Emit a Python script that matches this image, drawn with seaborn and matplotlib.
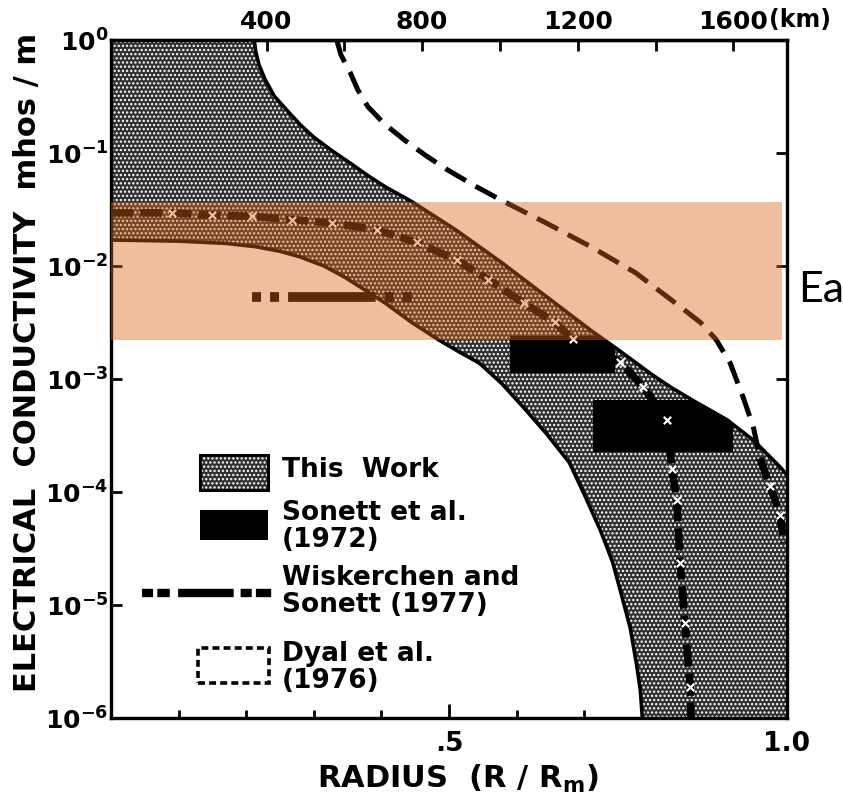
import numpy as np
import matplotlib
matplotlib.use("Agg")
import matplotlib.pyplot as plt
import seaborn as sns
from matplotlib.patches import Rectangle
from matplotlib.lines import Line2D

# radius of the moon, for the km axis on top
RM_KM = 1738

# "This Work" envelope, x = R/Rm, y = log10(sigma)
work_upper_r = [0.212, 0.214, 0.219, 0.228, 0.242, 0.26, 0.28, 0.30, 0.327, 0.354,
                0.38, 0.406, 0.445, 0.51, 0.578, 0.644, 0.71, 0.75, 0.80, 0.83,
                0.861, 0.911, 0.95, 0.99, 1.0]
work_upper_log = [0.0, -0.10, -0.22, -0.35, -0.50, -0.62, -0.75, -0.86, -0.98, -1.09,
                  -1.20, -1.30, -1.43, -1.68, -1.97, -2.27, -2.57, -2.74, -2.96, -3.08,
                  -3.19, -3.36, -3.54, -3.78, -3.85]
work_lower_r = [0.0, 0.1, 0.17, 0.215, 0.25, 0.28, 0.315, 0.346, 0.375, 0.406, 0.445,
                0.485, 0.515, 0.545, 0.578, 0.61, 0.645, 0.678, 0.70, 0.724, 0.742,
                0.756, 0.768, 0.777, 0.783, 0.786]
work_lower_log = [-1.77, -1.78, -1.80, -1.83, -1.87, -1.92, -2.00, -2.10, -2.21, -2.33,
                  -2.50, -2.655, -2.76, -2.86, -3.04, -3.25, -3.49, -3.74, -4.02, -4.34,
                  -4.62, -4.93, -5.20, -5.51, -5.75, -6.0]

# Sonett et al. (1972) blocks
sonett_r0 = [0.59, 0.713]
sonett_r1 = [0.745, 0.92]
sonett_lo = [-2.95, -3.65]
sonett_hi = [-2.62, -3.19]

# Wiskerchen and Sonett (1977)
wisk_r = [0.209, 0.445]
wisk_log = [-2.27, -2.27]

# Dyal et al. (1976) dashed curve
dyal_r = [0.334, 0.340, 0.354, 0.365, 0.38, 0.404, 0.433, 0.465, 0.498, 0.538, 0.578,
          0.644, 0.71, 0.776, 0.842, 0.872, 0.895, 0.916, 0.935, 0.95, 0.962]
dyal_log = [0.0, -0.13, -0.29, -0.44, -0.59, -0.74, -0.88, -1.02, -1.15, -1.29, -1.42,
            -1.62, -1.83, -2.06, -2.36, -2.50, -2.65, -2.86, -3.16, -3.42, -3.75]

# dashed curve with white crosses
cross_r = [0.0, 0.09, 0.15, 0.209, 0.268, 0.327, 0.393, 0.452, 0.512, 0.558, 0.611,
           0.657, 0.683, 0.753, 0.787, 0.822, 0.83, 0.837, 0.842, 0.849, 0.857, 0.858]
cross_log = [-1.53, -1.53, -1.55, -1.56, -1.59, -1.62, -1.68, -1.79, -1.95, -2.12, -2.33,
             -2.50, -2.65, -2.85, -3.07, -3.36, -3.80, -4.07, -4.63, -5.16, -5.73, -6.0]
edge_r = [0.96, 0.975, 0.99, 0.995]
edge_log = [-3.70, -3.95, -4.20, -4.45]

# highlighted band (log10 sigma)
band_log = [-2.655, -1.434]

ytick_exp = [0, -1, -2, -3, -4, -5, -6]
xtick_major = [0.5, 1.0]
xtick_labels = [".5", "1.0"]
xtick_minor = [0.1, 0.2, 0.3, 0.4, 0.6, 0.7, 0.8, 0.9]
km_major = [400, 800, 1200, 1600]
km_minor = [200, 600, 1000, 1400]

sns.set_theme(style="ticks")
plt.rcParams["font.family"] = ["DejaVu Sans"]
plt.rcParams["font.weight"] = "bold"
for key in ["text.color", "axes.labelcolor", "xtick.color", "ytick.color", "axes.edgecolor"]:
    plt.rcParams[key] = "black"
plt.rcParams["mathtext.fontset"] = "custom"
plt.rcParams["mathtext.rm"] = "DejaVu Sans:bold"
plt.rcParams["mathtext.it"] = "DejaVu Sans:bold"
plt.rcParams["mathtext.bf"] = "DejaVu Sans:bold"
plt.rcParams["mathtext.default"] = "rm"
plt.rcParams["lines.scale_dashes"] = False
plt.rcParams["hatch.linewidth"] = 1.1

fig = plt.figure(figsize=(8.43, 8.05), dpi=100)
ax = fig.add_axes([111 / 843, 87 / 805, 676 / 843, 678 / 805])
ax.set_yscale("log")
ax.set_xlim(0, 1.0)
ax.set_ylim(1e-6, 1e0)

# shaded envelope
poly_r = [0.0] + work_upper_r + [1.0] + work_lower_r[::-1]
poly_log = [0.0] + work_upper_log + [-6.0] + work_lower_log[::-1]
shade = ax.fill(poly_r, 10 ** np.array(poly_log), facecolor="#303030",
                edgecolor="white", hatch="....", lw=0, zorder=1)[0]

for r0, r1, lo, hi in zip(sonett_r0, sonett_r1, sonett_lo, sonett_hi):
    blk = ax.fill_between([r0, r1], [10 ** lo] * 2, [10 ** hi] * 2,
                          color="black", lw=0, zorder=2)
    blk.set_clip_path(shade)

# envelope boundaries
for xs, ls in [(work_upper_r, work_upper_log), (work_lower_r, work_lower_log)]:
    sns.lineplot(x=xs, y=10 ** np.array(ls), ax=ax, sort=False, estimator=None,
                 color="black", lw=2.6, zorder=3)
    ax.lines[-1].set_solid_joinstyle("round")

# Dyal
sns.lineplot(x=dyal_r, y=10 ** np.array(dyal_log), ax=ax, sort=False, estimator=None,
             color="black", lw=3.6, zorder=3)
ax.lines[-1].set_dashes([17, 8])

# crossed line
for xs, ls in [(cross_r, cross_log), (edge_r, edge_log)]:
    sns.lineplot(x=xs, y=10 ** np.array(ls), ax=ax, sort=False, estimator=None,
                 color="black", lw=5.5, zorder=4)
    ax.lines[-1].set_dashes([16, 5])
    sns.scatterplot(x=xs[1:-1], y=10 ** np.array(ls[1:-1]), ax=ax, marker="x",
                    color="white", s=28, linewidth=1.6, zorder=5)

# Wiskerchen and Sonett
sns.lineplot(x=wisk_r, y=10 ** np.array(wisk_log), ax=ax, sort=False, estimator=None,
             color="black", lw=7, zorder=4)
ax.lines[-1].set_dashes([6.5, 6.5, 6.5, 6.5, 63, 6.5])

# highlight band
ax.axhspan(10 ** band_log[0], 10 ** band_log[1], xmin=0, xmax=0.993,
           color=(219 / 255, 102 / 255, 24 / 255), alpha=0.42, lw=0, zorder=20)

# axes styling
for sp in ax.spines.values():
    sp.set_linewidth(2.4)
    sp.set_color("black")
ax.set_yticks([10.0 ** e for e in ytick_exp])
ax.set_yticklabels([r"$10^{%d}$" % e for e in ytick_exp])
ax.yaxis.set_minor_locator(matplotlib.ticker.NullLocator())
ax.set_xticks(xtick_major)
ax.set_xticklabels(xtick_labels)
ax.set_xticks(xtick_minor, minor=True)
ax.tick_params(axis="y", which="major", direction="in", left=True, right=True,
               length=8, width=2, labelsize=18, pad=2)
ax.tick_params(axis="x", which="major", direction="in", bottom=True, top=False,
               length=10, width=2, labelsize=19, pad=9)
ax.tick_params(axis="x", which="minor", direction="in", bottom=True, top=False,
               length=6, width=2)

sec = ax.secondary_xaxis("top", functions=(lambda x: x * RM_KM, lambda k: k / RM_KM))
sec.set_xticks(km_major)
sec.set_xticklabels([str(k) for k in km_major])
sec.set_xticks(km_minor, minor=True)
sec.tick_params(axis="x", which="both", direction="in", length=8, width=2,
                labelsize=18, pad=4)
sec.spines["top"].set_linewidth(2.4)
ax.text(0.973, 1.0 + 13 / 678, "(km)", transform=ax.transAxes, fontsize=17,
        fontweight="bold", ha="left", va="baseline")

ax.set_ylabel("ELECTRICAL  CONDUCTIVITY  mhos / m", fontsize=22, fontweight="bold")
ax.yaxis.set_label_coords(-0.102, 0.525)
ax.set_xlabel(r"RADIUS  (R / R$_{m}$)", fontsize=22, fontweight="bold")
ax.xaxis.set_label_coords(0.513, -0.066)

# legend drawn by hand
lt = ax.transAxes
ax.add_patch(Rectangle((0.132, 0.336), 0.100, 0.052, transform=lt, facecolor="#303030",
                       edgecolor="white", hatch="....", lw=0, zorder=6))
ax.add_patch(Rectangle((0.132, 0.336), 0.100, 0.052, transform=lt, facecolor="none",
                       edgecolor="black", lw=2.2, zorder=7))
ax.add_patch(Rectangle((0.132, 0.263), 0.100, 0.044, transform=lt, facecolor="black",
                       lw=0, zorder=6))
ax.add_line(Line2D([0.046, 0.247], [0.184, 0.184], transform=lt, color="black", lw=6,
                   dashes=[8, 3, 9, 6, 40, 5, 8, 3, 11, 50], zorder=6))
ax.add_patch(Rectangle((0.128, 0.052), 0.105, 0.051, transform=lt, facecolor="white",
                       edgecolor="black", lw=2.6, linestyle=(0, (5, 3)), zorder=6))
leg_kw = dict(transform=lt, fontsize=19, fontweight="bold", ha="left", va="center",
              linespacing=1.05, zorder=7)
ax.text(0.253, 0.366, "This  Work", **leg_kw)
ax.text(0.253, 0.283, "Sonett et al.\n(1972)", **leg_kw)
ax.text(0.253, 0.186, "Wiskerchen and\nSonett (1977)", **leg_kw)
ax.text(0.253, 0.075, "Dyal et al.\n(1976)", **leg_kw)

fig.text(798 / 843, 1 - 290 / 805, "Ea", fontsize=31, fontweight="normal",
         family=["Lato", "DejaVu Sans"], ha="left", va="center")

fig.savefig("out.png", dpi=100)
